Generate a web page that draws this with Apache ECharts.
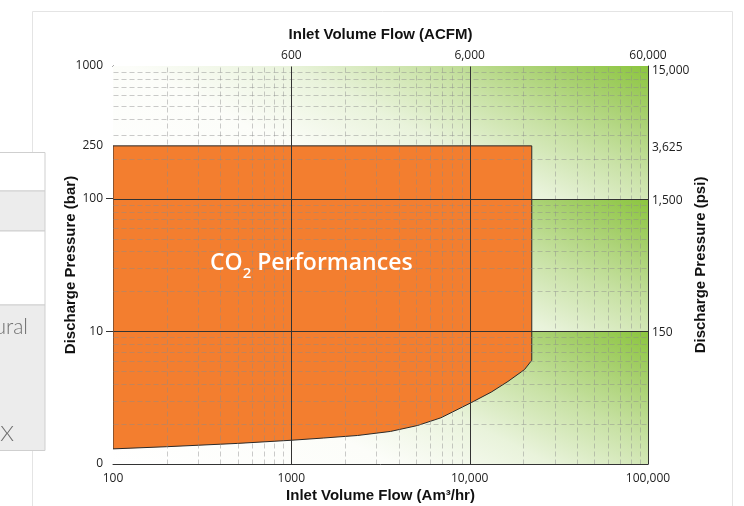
<!DOCTYPE html>
<html><head><meta charset="utf-8">
<script src="https://cdn.jsdelivr.net/npm/echarts@6/dist/echarts.min.js"></script>
<style>html,body{margin:0;padding:0;background:#fff}#c{width:744px;height:506px}</style>
</head><body><div id="c"></div>
<script>
// ---- data ----
const flowTicks = [100, 1000, 10000, 100000];
const flowTickLabels = ['100', '1000', '10,000', '100,000'];
const acfmTicks = [1000, 10000, 100000];
const acfmTickLabels = ['600', '6,000', '60,000'];
const barTicks = [1, 10, 100, 250, 1000];
const barTickLabels = ['0', '10', '100', '250', '1000'];
const psiTicks = [10, 100, 250, 1000];
const psiTickLabels = ['150', '1,500', '3,625', '15,000'];
const envelopeFlow = [100, 200, 500, 1000, 1520, 2350, 3600, 5100, 6900, 10200, 13200, 16400, 20300, 22300, 22300, 100];
const envelopePressure = [1.30, 1.35, 1.43, 1.51, 1.57, 1.64, 1.76, 1.95, 2.23, 2.90, 3.48, 4.19, 5.15, 6.05, 250, 250];
const majorFlowLines = [1000, 10000];
const majorPressureLines = [10, 100];
const minorFlowLines = [200, 300, 400, 500, 600, 700, 800, 900, 2000, 3000, 4000, 5000, 6000, 7000, 8000, 9000, 20000, 30000, 40000, 50000, 60000, 70000, 80000, 90000];
const minorPressureLines = [2, 3, 4, 5, 6, 7, 8, 9, 20, 30, 40, 50, 60, 70, 80, 90, 200, 300, 400, 500, 600, 700, 800, 900];
const pressureBands = [[1, 10], [10, 100], [100, 1000]];
const flowRange = [100, 100000];
const pressureRange = [1, 1000];

function labelFor(ticks, labels, richTopIndex) {
  return function (v) {
    for (let i = 0; i < ticks.length; i++) {
      if (Math.abs(Math.log10(v) - Math.log10(ticks[i])) < 1e-4) {
        return i === richTopIndex ? '{top|' + labels[i] + '}' : labels[i];
      }
    }
    return '';
  };
}

const labelFont = 'Open Sans';
const nameStyle = { fontWeight: 'bold', fontSize: 15, fontFamily: 'Liberation Sans', color: '#111' };
const axisLineStyle = { show: true, onZero: false, lineStyle: { color: '#333', width: 1 } };

function bandGradient() {
  return new echarts.graphic.LinearGradient(0, 1, 0.30, -1.41, [
    { offset: 0, color: '#ffffff' },
    { offset: 0.35, color: '#fcfdf9' },
    { offset: 0.55, color: '#e9f3db' },
    { offset: 0.72, color: '#c9e2a6' },
    { offset: 0.88, color: '#a5cf6b' },
    { offset: 1, color: '#8cc63f' }
  ]);
}

// grid line list: [orientation, value, major]
const gridLines = []
  .concat(minorFlowLines.map(v => ['v', v, false]))
  .concat(minorPressureLines.map(v => ['h', v, false]))
  .concat(majorFlowLines.map(v => ['v', v, true]))
  .concat(majorPressureLines.map(v => ['h', v, true]));

const chart = echarts.init(document.getElementById('c'), null, { renderer: 'canvas' });

chart.setOption({
  animation: false,
  backgroundColor: '#fff',
  grid: { left: 113, right: 96, top: 66, bottom: 42, containLabel: false, outerBoundsMode: 'none' },
  xAxis: [
    {
      type: 'log', logBase: 10, min: flowRange[0], max: flowRange[1], position: 'bottom',
      axisLine: axisLineStyle, axisTick: { show: false }, splitLine: { show: false },
      axisLabel: { customValues: flowTicks, formatter: labelFor(flowTicks, flowTickLabels, -1), margin: 9, fontSize: 12, color: '#222', fontFamily: labelFont },
      name: 'Inlet Volume Flow (Am³/hr)', nameLocation: 'middle', nameGap: 24, nameMoveOverlap: false, nameTextStyle: nameStyle
    },
    {
      type: 'log', logBase: 10, min: flowRange[0], max: flowRange[1], position: 'top',
      axisLine: axisLineStyle, axisTick: { show: false }, splitLine: { show: false },
      axisLabel: { customValues: acfmTicks, formatter: labelFor(acfmTicks, acfmTickLabels, -1), margin: 4, fontSize: 12, color: '#222', fontFamily: labelFont },
      name: 'Inlet Volume Flow (ACFM)', nameLocation: 'middle', nameGap: 24, nameMoveOverlap: false, nameTextStyle: nameStyle
    }
  ],
  yAxis: [
    {
      type: 'log', logBase: 10, min: pressureRange[0], max: pressureRange[1], position: 'left',
      axisLine: axisLineStyle,
      axisTick: { show: true, customValues: [10, 100], length: 7, lineStyle: { color: '#333' } },
      splitLine: { show: false },
      axisLabel: { customValues: barTicks, formatter: labelFor(barTicks, barTickLabels, -1), margin: 10, padding: [3, 0, 0, 0], fontSize: 12, color: '#222', fontFamily: labelFont, verticalAlign: 'middle', verticalAlignMinLabel: 'middle', verticalAlignMaxLabel: 'middle' },
      name: 'Discharge Pressure (bar)', nameLocation: 'middle', nameGap: 35, nameMoveOverlap: false, nameTextStyle: nameStyle
    },
    {
      type: 'log', logBase: 10, min: pressureRange[0], max: pressureRange[1], position: 'right',
      axisLine: axisLineStyle, axisTick: { show: false }, splitLine: { show: false },
      axisLabel: {
        customValues: psiTicks, formatter: labelFor(psiTicks, psiTickLabels, 3), margin: 4, padding: [3, 0, 0, 0],
        fontSize: 12, color: '#222', fontFamily: labelFont, verticalAlign: 'middle', verticalAlignMaxLabel: 'middle',
        rich: { top: { fontSize: 12, color: '#222', fontFamily: labelFont, padding: [7, 0, 0, 0] } }
      },
      name: 'Discharge Pressure (psi)', nameLocation: 'middle', nameGap: 45, nameMoveOverlap: false, nameTextStyle: nameStyle
    }
  ],
  series: [
    {
      name: 'background', type: 'custom', coordinateSystem: 'cartesian2d', xAxisIndex: 0, yAxisIndex: 0,
      z: 1, silent: true, clip: true,
      data: pressureBands.map(b => [flowRange[0], b[0]]),
      renderItem: function (params, api) {
        const b = pressureBands[params.dataIndex];
        const p1 = api.coord([flowRange[0], b[1]]);
        const p2 = api.coord([flowRange[1], b[0]]);
        return { type: 'rect', shape: { x: p1[0], y: p1[1], width: p2[0] - p1[0], height: p2[1] - p1[1] }, style: { fill: bandGradient() } };
      }
    },
    {
      name: 'CO2 envelope', type: 'custom', coordinateSystem: 'cartesian2d', xAxisIndex: 0, yAxisIndex: 0,
      z: 2, silent: true, clip: true,
      data: [[envelopeFlow[0], envelopePressure[0]]],
      renderItem: function (params, api) {
        const pts = envelopeFlow.map((f, i) => api.coord([f, envelopePressure[i]]));
        return { type: 'polygon', shape: { points: pts }, style: { fill: '#f37e2f', stroke: '#2a2a2a', lineWidth: 1 } };
      }
    },
    {
      name: 'grid lines', type: 'custom', coordinateSystem: 'cartesian2d', xAxisIndex: 0, yAxisIndex: 0,
      z: 3, silent: true, clip: true,
      data: gridLines.map(g => [g[0] === 'v' ? g[1] : flowRange[0], g[0] === 'h' ? g[1] : pressureRange[0]]),
      renderItem: function (params, api) {
        const g = gridLines[params.dataIndex];
        let a, b;
        if (g[0] === 'v') { a = api.coord([g[1], pressureRange[0]]); b = api.coord([g[1], pressureRange[1]]); }
        else { a = api.coord([flowRange[0], g[1]]); b = api.coord([flowRange[1], g[1]]); }
        const x1 = Math.round(a[0]) + 0.5, y1 = Math.round(a[1]) + 0.5, x2 = Math.round(b[0]) + 0.5, y2 = Math.round(b[1]) + 0.5;
        return {
          type: 'line', shape: { x1: x1, y1: y1, x2: x2, y2: y2 },
          style: g[2]
            ? { stroke: '#333', lineWidth: 1 }
            : { stroke: 'rgba(140,140,140,0.45)', lineWidth: 1, lineDash: [5, 3] }
        };
      }
    }
  ],
  graphic: [
    { type: 'rect', z: -10, shape: { x: 32.5, y: 11.5, width: 700, height: 520 }, style: { fill: 'none', stroke: '#e4e4e4', lineWidth: 1 } },
    { type: 'rect', z: 10, shape: { x: -2, y: 152.5, width: 47, height: 38.5 }, style: { fill: '#fff', stroke: '#cfcfcf', lineWidth: 1 } },
    { type: 'rect', z: 10, shape: { x: -2, y: 191, width: 47, height: 40 }, style: { fill: '#ececec', stroke: '#cfcfcf', lineWidth: 1 } },
    { type: 'rect', z: 10, shape: { x: -2, y: 231, width: 47, height: 74 }, style: { fill: '#fff', stroke: '#cfcfcf', lineWidth: 1 } },
    { type: 'rect', z: 10, shape: { x: -2, y: 305, width: 47, height: 145.5 }, style: { fill: '#ececec', stroke: '#cfcfcf', lineWidth: 1 } },
    { type: 'text', z: 11, x: 28, y: 327, style: { text: 'Natural', fill: '#707070', font: '300 21px Lato', align: 'right', verticalAlign: 'middle' } },
    { type: 'text', z: 11, x: 14, y: 434, style: { text: 'X', fill: '#707070', font: '300 22px Lato', align: 'right', verticalAlign: 'middle' } },
    {
      type: 'text', z: 20, x: 210, y: 263,
      style: {
        text: '{a|CO}{s|2}{a| Performances}', align: 'left', verticalAlign: 'middle',
        rich: {
          a: { fill: '#fff', fontSize: 23, fontWeight: 600, fontFamily: 'Open Sans', lineHeight: 36, verticalAlign: 'middle' },
          s: { fill: '#fff', fontSize: 15, fontWeight: 600, fontFamily: 'Open Sans', lineHeight: 15, verticalAlign: 'bottom' }
        }
      }
    }
  ]
});
</script></body></html>
